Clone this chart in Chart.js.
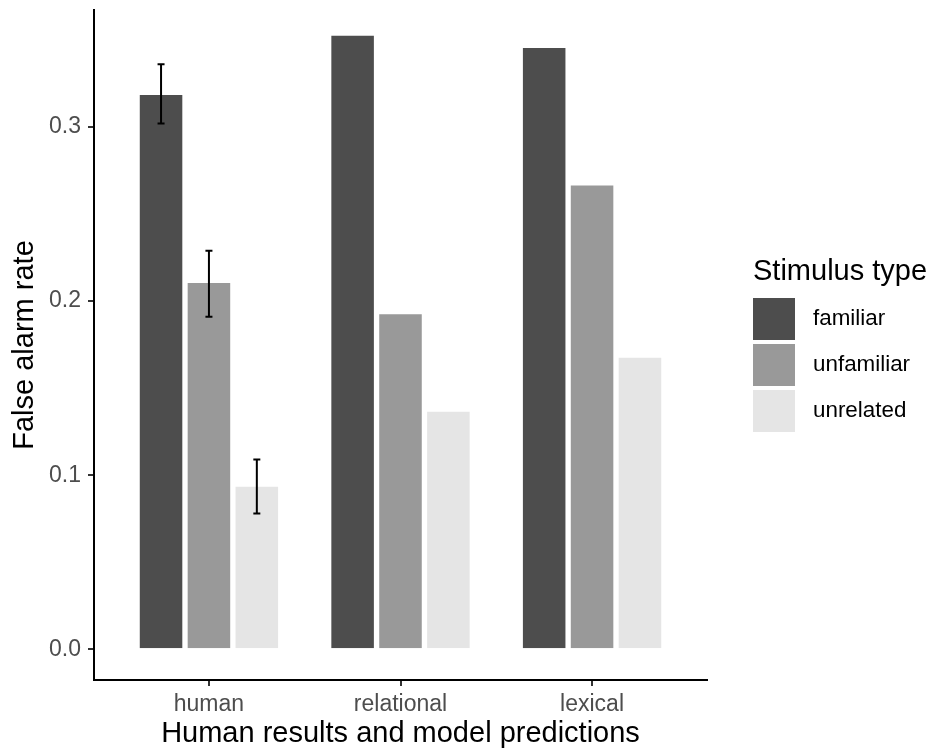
<!DOCTYPE html>
<html>
<head>
<meta charset="utf-8">
<title>False alarm rate by stimulus type</title>
<script src="https://cdn.jsdelivr.net/npm/chart.js@4.4.1/dist/chart.umd.min.js"></script>
<style>
  html, body { margin: 0; padding: 0; background: #fff; }
  canvas { display: block; }
</style>
</head>
<body>
<canvas id="faChart" width="932" height="751"></canvas>
<script>
// ---- values ----
const categories = ['human', 'relational', 'lexical'];
const stimulusTypes = ['familiar', 'unfamiliar', 'unrelated'];
const familiar   = [0.319, 0.353, 0.346];
const unfamiliar = [0.211, 0.193, 0.267];
const unrelated  = [0.094, 0.137, 0.168];
// error bars only exist for the human data (one per stimulus type)
const humanErrLow  = [0.302, 0.191, 0.078];
const humanErrHigh = [0.336, 0.229, 0.109];
const yTicks = [0.0, 0.1, 0.2, 0.3];

const fills = ['#4D4D4D', '#999999', '#E5E5E5'];
const FONT = "'Liberation Sans', Arial, sans-serif";
Chart.defaults.font.family = FONT;

// Draw error bars on top of the human bars
const errorBarPlugin = {
    id: 'errorBars',
    afterDatasetsDraw(chart) {
        const ctx = chart.ctx;
        const y = chart.scales.y;
        ctx.save();
        ctx.strokeStyle = '#000';
        ctx.lineWidth = 2;
        chart.data.datasets.forEach((ds, i) => {
            const bar = chart.getDatasetMeta(i).data[0];
            const lo = y.getPixelForValue(humanErrLow[i]);
            const hi = y.getPixelForValue(humanErrHigh[i]);
            const x = bar.x, w = 3.5;
            ctx.beginPath();
            ctx.moveTo(x, hi); ctx.lineTo(x, lo);
            ctx.moveTo(x - w, hi); ctx.lineTo(x + w, hi);
            ctx.moveTo(x - w, lo); ctx.lineTo(x + w, lo);
            ctx.stroke();
        });
        ctx.restore();
    }
};

// ggplot-style legend on the right
const sideLegendPlugin = {
    id: 'sideLegend',
    afterDraw(chart) {
        const ctx = chart.ctx;
        const left = 753, keyTop = 298, keySize = 42, pitch = 46;
        ctx.save();
        ctx.fillStyle = '#000';
        ctx.textAlign = 'left';
        ctx.textBaseline = 'alphabetic';
        ctx.font = '29px ' + FONT;
        ctx.fillText('Stimulus type', left, 280);
        ctx.font = '22.4px ' + FONT;
        ctx.textBaseline = 'middle';
        chart.data.datasets.forEach((ds, i) => {
            const top = keyTop + i * pitch;
            ctx.fillStyle = ds.backgroundColor;
            ctx.fillRect(left, top, keySize, keySize);
            ctx.fillStyle = '#000';
            ctx.fillText(ds.label, 813, top + keySize / 2);
        });
        ctx.restore();
    }
};

const seriesValues = [familiar, unfamiliar, unrelated];

new Chart(document.getElementById('faChart'), {
    type: 'bar',
    data: {
        datasets: stimulusTypes.map((name, i) => ({
            label: name,
            data: seriesValues[i].map((v, j) => ({ x: j + 1, y: v })),
            backgroundColor: fills[i],
            borderColor: 'rgba(255,255,255,0.35)',
            borderWidth: 1,
            categoryPercentage: 0.75,
            barPercentage: 0.93
        }))
    },
    options: {
        responsive: false,
        animation: false,
        layout: { padding: { top: 10, right: 225, bottom: 0, left: 0 } },
        plugins: {
            legend: { display: false },
            tooltip: { enabled: false }
        },
        scales: {
            x: {
                type: 'linear',
                offset: false,
                min: 0.4,
                max: 3.6,
                afterBuildTicks: s => { s.ticks = categories.map((c, i) => ({ value: i + 1 })); },
                afterFit: s => { s.height = 71; s.paddingLeft = 0; s.paddingRight = 0; },
                grid: {
                    display: true,
                    offset: false,
                    drawOnChartArea: false,
                    drawTicks: true,
                    tickLength: 6,
                    color: '#333333',
                    lineWidth: 2
                },
                border: { display: true, color: '#000', width: 2 },
                ticks: {
                    callback: v => categories[v - 1],
                    color: '#4D4D4D',
                    font: { size: 23 },
                    padding: 5,
                    maxRotation: 0,
                    autoSkip: false
                },
                title: {
                    display: true,
                    text: 'Human results and model predictions',
                    color: '#000',
                    font: { size: 29 },
                    padding: { top: 0, bottom: 0 }
                }
            },
            y: {
                min: -0.0176,
                max: 0.3672,
                afterBuildTicks: s => { s.ticks = yTicks.map(v => ({ value: v })); },
                afterFit: s => { s.width = 94; s.paddingTop = 0; s.paddingBottom = 0; },
                grid: {
                    display: true,
                    drawOnChartArea: false,
                    drawTicks: true,
                    tickLength: 6,
                    color: '#333333',
                    lineWidth: 2
                },
                border: { display: true, color: '#000', width: 2 },
                ticks: {
                    callback: v => v.toFixed(1),
                    color: '#4D4D4D',
                    font: { size: 23 },
                    padding: 7
                },
                title: {
                    display: true,
                    text: 'False alarm rate',
                    color: '#000',
                    font: { size: 29 },
                    padding: { top: 8, bottom: 0 }
                }
            }
        }
    },
    plugins: [errorBarPlugin, sideLegendPlugin]
});
</script>
</body>
</html>
